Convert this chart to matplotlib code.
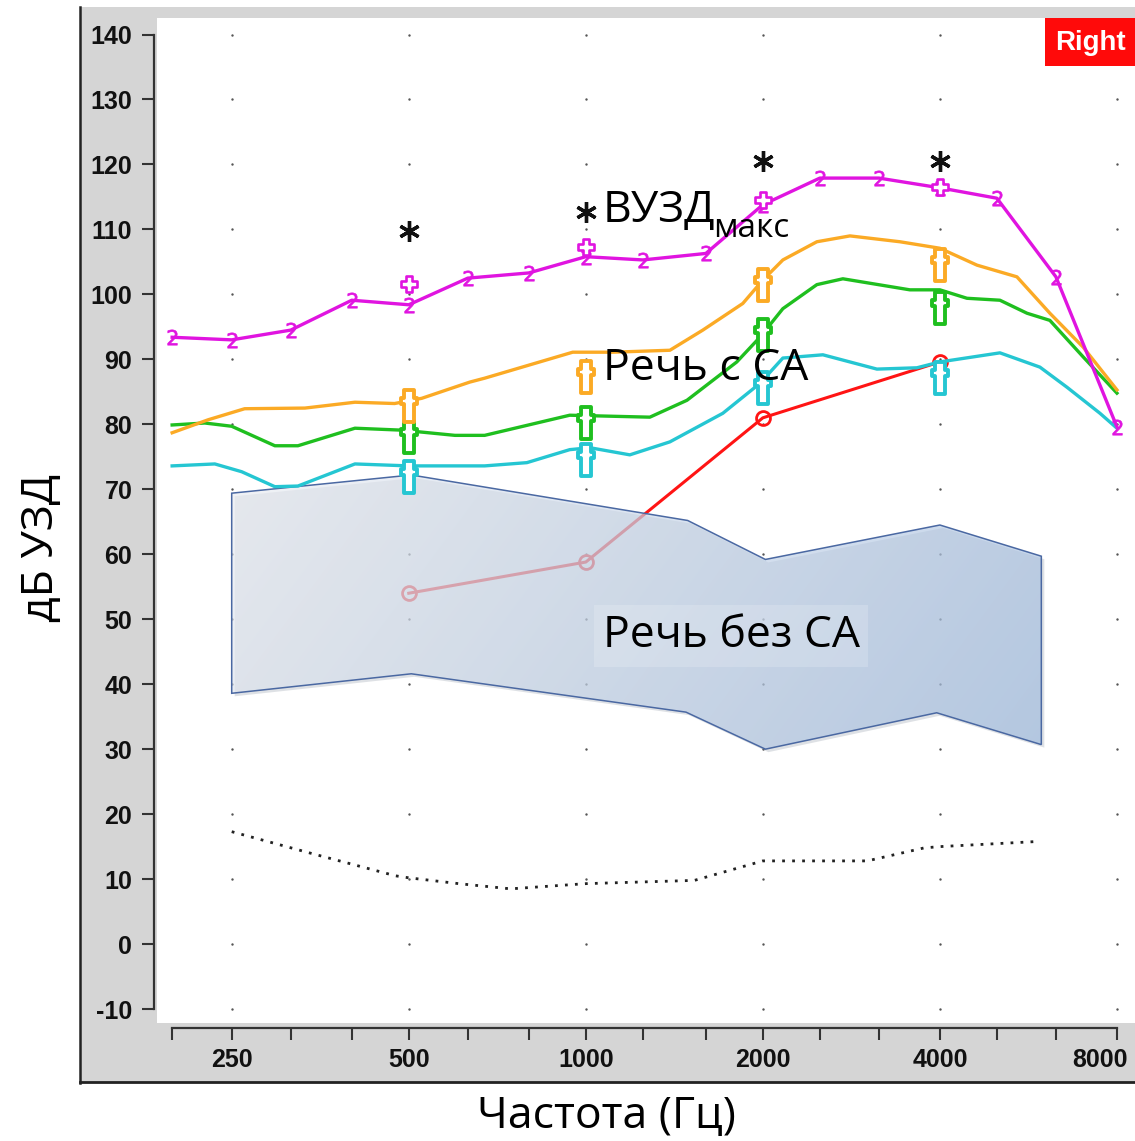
import numpy as np
import matplotlib
matplotlib.use('Agg')
import matplotlib.pyplot as plt
from matplotlib.path import Path
from matplotlib.patches import Polygon, Rectangle
from matplotlib.lines import Line2D
from matplotlib.ticker import FixedLocator, NullFormatter, FixedFormatter
import matplotlib.transforms as mtransforms

plt.rcParams['axes.unicode_minus'] = False

# ---------------- data ----------------
major_freqs = [250, 500, 1000, 2000, 4000, 8000]
major_labels = ['250', '500', '1000', '2000', '4000', '8000']
minor_freqs = [198, 315, 400, 630, 800, 1250, 1600, 2500, 3150, 5000, 6300]
db_ticks = [-10, 0, 10, 20, 30, 40, 50, 60, 70, 80, 90, 100, 110, 120, 130, 140]

# MPO curve (magenta, "2" markers)
mpo_freqs = [198, 250, 315, 400, 500, 630, 800, 1000, 1250, 1600, 2000, 2500, 3150, 4000, 5000, 6300, 8000]
mpo_db = [93.4, 93.0, 94.5, 99.1, 98.4, 102.5, 103.3, 105.8, 105.3, 106.3, 113.8, 117.9, 117.9, 116.4, 114.8, 102.7, 79.6]

# loud speech with HA (orange)
loud_freqs = [198, 228, 263, 333, 405, 473, 526, 635, 673, 950, 1112, 1390, 1581, 1849, 2000, 2163, 2471, 2813, 3420, 4000, 4625, 5408, 6152, 7005, 8000]
loud_db = [78.7, 80.7, 82.4, 82.5, 83.4, 83.2, 84.0, 86.5, 87.1, 91.1, 91.1, 91.4, 94.5, 98.6, 102.2, 105.3, 108.1, 109.0, 108.1, 107.1, 104.5, 102.7, 97.1, 91.9, 85.3]

# average speech with HA (green)
avg_freqs = [198, 225, 250, 296, 324, 405, 487, 599, 673, 939, 1285, 1486, 1806, 1977, 2163, 2471, 2736, 3556, 4000, 4447, 5060, 5625, 6152, 7005, 8000]
avg_db = [79.9, 80.2, 79.7, 76.7, 76.7, 79.4, 79.1, 78.3, 78.3, 81.4, 81.1, 83.7, 89.6, 93.4, 97.8, 101.5, 102.4, 100.7, 100.7, 99.4, 99.1, 97.1, 96.0, 90.4, 84.8]

# soft speech with HA (cyan)
soft_freqs = [198, 234, 260, 296, 324, 405, 500, 673, 794, 939, 1016, 1188, 1390, 1710, 1977, 2163, 2530, 3126, 3655, 4000, 5060, 5918, 6580, 7485, 8000]
soft_db = [73.6, 73.9, 72.7, 70.4, 70.5, 73.9, 73.6, 73.6, 74.1, 76.1, 76.4, 75.3, 77.3, 81.7, 86.3, 90.2, 90.7, 88.5, 88.7, 89.6, 91.0, 88.8, 85.7, 81.7, 79.4]

# measured points at audiometric frequencies
meas_freqs = [500, 1000, 2000, 4000]
loud_meas = [83.6, 88.0, 102.2, 105.3]
avg_meas = [78.8, 81.0, 94.5, 98.7]
soft_meas = [72.7, 75.3, 86.3, 87.9]
mpo_meas = [101.6, 107.3, 114.6, 116.5]
ucl_meas = [109.8, 112.7, 120.5, 120.5]
thr_meas = [54.0, 58.8, 81.0, 89.6]

# normal threshold (dotted)
norm_freqs = [250, 340, 475, 500, 608, 745, 1000, 1530, 2000, 3010, 3760, 4000, 5900]
norm_db = [17.3, 14.0, 10.5, 10.2, 9.3, 8.5, 9.3, 9.8, 12.8, 12.8, 14.8, 15.0, 15.8]

# unaided speech banana
band_top_f = [250, 505, 1490, 2020, 4000, 5950]
band_top_db = [69.4, 72.2, 65.2, 59.2, 64.5, 59.7]
band_bot_f = [5950, 3950, 2020, 1480, 505, 250]
band_bot_db = [30.7, 35.6, 30.0, 35.7, 41.6, 38.6]

# ---------------- fonts ----------------
tick_font = 'Liberation Sans'
tick_size = 18
ann_font = ['Open Sans', 'DejaVu Sans']

# ---------------- figure ----------------
W, H = 1135, 1141
fig = plt.figure(figsize=(W / 100, H / 100), dpi=100)
fig.patch.set_facecolor('white')

def fx(px):
    return px / W

def fy(py):
    return 1 - py / H

# gray frame
fig.patches.append(Rectangle((fx(80), fy(1083)), fx(W - 80), (1083 - 7) / H,
                             transform=fig.transFigure, facecolor='#d5d5d5',
                             edgecolor='none', zorder=-10))
fig.lines.append(Line2D([fx(80), fx(80)], [fy(1083), fy(7)], transform=fig.transFigure,
                        color='#222222', lw=1.8))
fig.lines.append(Line2D([fx(80), 1.0], [fy(1082), fy(1082)], transform=fig.transFigure,
                        color='#222222', lw=2.0))

ax = fig.add_axes([fx(157), fy(1023), fx(W - 157), (1023 - 18) / H])
ax.set_facecolor('white')
ax.set_xscale('log')
XL = (186.6, 8586)
YL = (-12.15, 142.54)
ax.set_xlim(*XL)
ax.set_ylim(*YL)

for s in ['top', 'right']:
    ax.spines[s].set_visible(False)
ax.spines['left'].set_position(('outward', 2.2))
ax.spines['left'].set_bounds(-10, 140)
ax.spines['bottom'].set_position(('outward', 3.6))
ax.spines['bottom'].set_bounds(198, 8000)
for s in ['left', 'bottom']:
    ax.spines[s].set_linewidth(1.6)
    ax.spines[s].set_color('#333333')

shown_labels = major_labels[:-1] + ['']
ax.xaxis.set_major_locator(FixedLocator(major_freqs))
ax.xaxis.set_major_formatter(FixedFormatter(shown_labels))
ax.xaxis.set_minor_locator(FixedLocator(minor_freqs))
ax.xaxis.set_minor_formatter(NullFormatter())
ax.yaxis.set_major_locator(FixedLocator(db_ticks))
ax.yaxis.set_minor_locator(FixedLocator([]))
ax.tick_params(axis='both', which='both', direction='out', length=8.6, width=1.5,
               color='#333333')
ax.tick_params(axis='y', pad=7)
ax.tick_params(axis='x', pad=6)
for lab in ax.get_xticklabels() + ax.get_yticklabels():
    lab.set_fontfamily(tick_font)
    lab.set_fontweight('bold')
    lab.set_fontsize(tick_size)
    lab.set_color('#111111')

# last x label, pulled inside the frame like the reference
last_tr = mtransforms.blended_transform_factory(ax.transData, fig.transFigure)
ax.text(major_freqs[-1], fy(1060), major_labels[-1],
        transform=last_tr + mtransforms.ScaledTranslation(-17 / 100, 0, fig.dpi_scale_trans),
        family=tick_font, fontweight='bold', fontsize=tick_size, color='#111111',
        ha='center', va='center', clip_on=False)

# grid dots
gx, gy = np.meshgrid(major_freqs, db_ticks)
ax.scatter(gx.ravel(), gy.ravel(), s=3, color='#555555', zorder=1, linewidths=0)

# normal threshold
ax.plot(norm_freqs, norm_db, color='#222222', lw=2.0, linestyle=(0, (1, 2.6)), zorder=2)

# aided threshold (red)
ax.plot(meas_freqs, thr_meas, color='#ff1414', lw=2.2, marker='o', ms=10,
        mfc='none', mec='#ff1414', mew=2.0, zorder=4.4)

# unaided speech banana with gradient
verts = list(zip(band_top_f, band_top_db)) + list(zip(band_bot_f, band_bot_db))
shadow = Polygon(verts, closed=True, facecolor='#7f8898', edgecolor='none', alpha=0.25,
                 transform=ax.transData + mtransforms.ScaledTranslation(3 / 100, -3 / 100, fig.dpi_scale_trans),
                 zorder=4.45)
ax.add_patch(shadow)
clip_poly = Polygon(verts, closed=True, facecolor='none', edgecolor='none')
ax.add_patch(clip_poly)

to_axes = ax.transData + ax.transAxes.inverted()
(ax0, ay1) = to_axes.transform((min(band_top_f), max(band_top_db)))
(ax1, ay0) = to_axes.transform((max(band_top_f), min(band_bot_db)))
ny, nx = 120, 240
xx = np.linspace(0, 1, nx)[None, :]
yy = np.linspace(0, 1, ny)[:, None]
t = np.clip(0.8 * xx + 0.2 * yy, 0, 1)
c0 = np.array([0.92, 0.93, 0.95])
c1 = np.array([0.62, 0.73, 0.87])
img = c0[None, None, :] * (1 - t[..., None]) + c1[None, None, :] * t[..., None]
im = ax.imshow(img, extent=[ax0, ax1, ay0, ay1], transform=ax.transAxes, aspect='auto',
               interpolation='bilinear', alpha=0.66, zorder=4.6)
im.set_clip_path(clip_poly)
edge = Polygon(verts, closed=True, facecolor='none', edgecolor='#4a68a2', lw=1.1, zorder=4.7)
ax.add_patch(edge)
ax.set_xlim(*XL)
ax.set_ylim(*YL)

# curves
ax.plot(soft_freqs, soft_db, color='#25c6d2', lw=2.4, zorder=5)
ax.plot(avg_freqs, avg_db, color='#1fbf1f', lw=2.4, zorder=5.1)
ax.plot(loud_freqs, loud_db, color='#fbaa25', lw=2.4, zorder=5.2)
ax.plot(mpo_freqs, mpo_db, color='#e014e0', lw=2.4, marker='$2$', ms=11, mew=0.5,
        mec='#e014e0', mfc='#e014e0', zorder=5.3)


def cross_marker(hw_v, top, bottom, hw_h, bar_half):
    v = [(-hw_v, top), (hw_v, top), (hw_v, bar_half), (hw_h, bar_half), (hw_h, -bar_half),
         (hw_v, -bar_half), (hw_v, bottom), (-hw_v, bottom), (-hw_v, -bar_half),
         (-hw_h, -bar_half), (-hw_h, bar_half), (-hw_v, bar_half), (-hw_v, top)]
    m = max(max(abs(a), abs(b)) for a, b in v)
    ms = 2 * m * 0.72  # px -> points at 100 dpi
    return Path(v, closed=True), ms

dagger, dagger_ms = cross_marker(4.6, 11.0, -20.5, 8.3, 2.7)
plus, plus_ms = cross_marker(2.8, 8.2, -8.2, 8.2, 2.8)

for vals, col in [(soft_meas, '#25c6d2'), (avg_meas, '#1fbf1f'), (loud_meas, '#fbaa25')]:
    ax.plot(meas_freqs, vals, linestyle='none', marker=dagger, ms=dagger_ms, mfc='white',
            mec=col, mew=2.8, zorder=6)
ax.plot(meas_freqs, mpo_meas, linestyle='none', marker=plus, ms=plus_ms, mfc='white',
        mec='#e014e0', mew=1.9, zorder=6)
ax.plot(meas_freqs, ucl_meas, linestyle='none', marker=(6, 2, 0), ms=15, mew=2.4,
        color='#111111', zorder=6)

# annotations
ax.text(1068, 111.1, 'ВУЗД', fontsize=32, family=ann_font, ha='left', va='baseline',
        color='black', zorder=8)
ax.text(1645, 108.8, 'макс', fontsize=24, family=ann_font, ha='left', va='baseline',
        color='black', zorder=8)
ax.text(1068, 86.8, 'Речь с СА', fontsize=32, family=ann_font, ha='left', va='baseline',
        color='black', zorder=8)
ax.text(1068, 45.7, 'Речь без СА', fontsize=32, family=ann_font, ha='left', va='baseline',
        color='black', zorder=8,
        bbox=dict(facecolor='white', alpha=0.18, edgecolor='none', pad=6))

# "Right" badge
fig.patches.append(Rectangle((fx(1045), fy(66)), fx(W - 1045), 48 / H, transform=fig.transFigure,
                             facecolor='#ff0a0a', edgecolor='none', zorder=20))
fig.text(fx(1090), fy(43), 'Right', color='white', fontsize=20, fontweight='bold',
         family='Liberation Sans', ha='center', va='center', zorder=21)

# axis labels
fig.text(fx(606), fy(1128), 'Частота (Гц)', fontsize=32, family=ann_font, ha='center',
         va='baseline', color='black')
fig.text(fx(42), fy(548), 'дБ УЗД', fontsize=32, family=ann_font, rotation=90,
         ha='center', va='center', color='black')

fig.savefig('out.png', dpi=100, facecolor='white')
